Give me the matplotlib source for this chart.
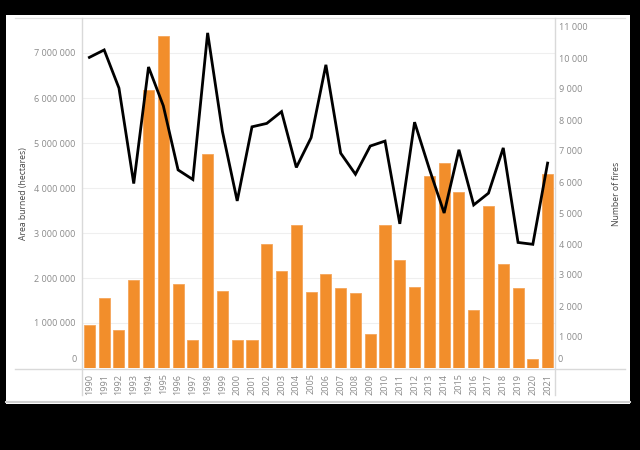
import matplotlib
matplotlib.use("Agg")
import matplotlib.pyplot as plt
from matplotlib.lines import Line2D
from matplotlib.patches import Rectangle
from matplotlib.ticker import FuncFormatter, MultipleLocator

years = list(range(1990, 2022))
area_burned = [950000, 1550000, 840000, 1950000, 6170000, 7380000, 1860000, 620000,
               4750000, 1710000, 630000, 630000, 2760000, 2160000, 3180000, 1680000,
               2100000, 1780000, 1670000, 750000, 3180000, 2400000, 1810000, 4270000,
               4550000, 3910000, 1300000, 3600000, 2320000, 1780000, 210000, 4320000]
num_fires = [10020, 10260, 9030, 5950, 9710, 8460, 6390, 6080,
             10810, 7630, 5390, 7780, 7890, 8270, 6470, 7430,
             9780, 6930, 6250, 7160, 7320, 4650, 7930, 6420,
             5000, 7040, 5260, 5640, 7100, 4050, 3990, 6610]

W, H = 640, 450
fig = plt.figure(figsize=(6.4, 4.5), dpi=100, facecolor="black")

def fx(x):
    return x / W

def fy(y):
    return 1 - y / H

# white canvas
fig.add_artist(Rectangle((fx(6), fy(404)), fx(630) - fx(6), fy(15) - fy(404),
                         transform=fig.transFigure, facecolor="white", edgecolor="none", zorder=0))

left, right, top, bottom = 82, 555, 19, 368
ax = fig.add_axes([fx(left), fy(bottom), fx(right) - fx(left), fy(top) - fy(bottom)])
ax.set_facecolor("none")
ax2 = ax.twinx()

bar_color = "#F28E2B"
x = list(range(len(years)))
ax.bar(x, area_burned, width=0.75, color=bar_color, edgecolor="#F5A55A", linewidth=0.6, zorder=2)
ax.set_xlim(-0.5, len(years) - 0.5)
ax.set_ylim(0, (bottom - top) / 45 * 1e6)
ax.yaxis.set_major_locator(MultipleLocator(1e6))
ax.grid(axis="y", color="#efefef", linewidth=0.8, zorder=0)
ax.set_axisbelow(True)

ax2.plot(x, num_fires, color="black", linewidth=2.0, zorder=3, solid_joinstyle="miter")
ax2.set_ylim(0, (bottom - top) / 31 * 1000)
ax2.yaxis.set_major_locator(MultipleLocator(1000))

def _fmt(v, p):
    if abs(v) < 1e-9:
        return ""
    return f"{int(round(v)):,}".replace(",", " ")

fmt = FuncFormatter(_fmt)
ax.yaxis.set_major_formatter(fmt)
ax2.yaxis.set_major_formatter(fmt)

tick_color = "#8a8a8a"
font = "Open Sans"
for a in (ax, ax2):
    for s in a.spines.values():
        s.set_visible(False)
    a.tick_params(axis="both", length=0, colors=tick_color, labelsize=6.5)
    for lab in a.get_yticklabels():
        lab.set_fontfamily(font)

# raised zero labels (as in the reference)
fig.text(fx(77), fy(359), "0", ha="right", va="center", fontsize=6.5, color=tick_color, family=font)
fig.text(fx(558), fy(359), "0", ha="left", va="center", fontsize=6.5, color=tick_color, family=font)

ax.tick_params(axis="y", pad=5)
ax2.tick_params(axis="y", pad=3)
ax.set_xticks(x)
ax.set_xticklabels([str(y) for y in years], rotation=90, fontsize=6.6, color=tick_color, family=font)
ax.tick_params(axis="x", pad=4)

ax.set_ylabel("Area burned (hectares)", fontsize=6.2, color="#444444", family=font, labelpad=8)
ax2.set_ylabel("Number of fires", fontsize=6.2, color="#444444", family=font, labelpad=40)
ax.yaxis.set_label_coords(-(left - 28) / (right - left), 0.5)
ax2.yaxis.set_label_coords(1 + (612 - right) / (right - left), 0.5)

line_c = "#d9d9d9"
for (x0, y0, x1, y1, c, lw) in [
    (15, 18, 625, 18, "#e3e3e3", 0.9),
    (15, bottom + 1, 625, bottom + 1, line_c, 1.0),
    (left, 18, left, 395, line_c, 1.0),
    (right, 18, right, 395, line_c, 1.0),
    (6, 402, 630, 402, "#cfcfcf", 1.5),
]:
    fig.add_artist(Line2D([fx(x0), fx(x1)], [fy(y0), fy(y1)], transform=fig.transFigure,
                          color=c, linewidth=lw, zorder=1))

fig.savefig("out.png", dpi=100, facecolor="black")
